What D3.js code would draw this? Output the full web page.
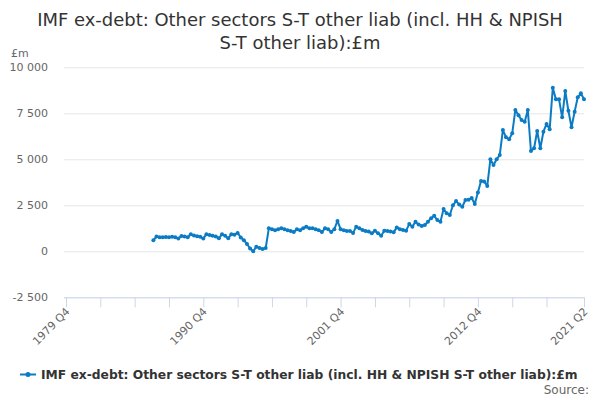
<!DOCTYPE html>
<html>
<head>
<meta charset="utf-8">
<script src="https://cdn.jsdelivr.net/npm/d3@7"></script>
<style>
  html, body { margin: 0; padding: 0; background: #fff; }
  svg { display: block; font-family: "DejaVu Sans", sans-serif; }
</style>
</head>
<body>
<svg id="chart" width="600" height="400"></svg>
<script>
// ---- data ----
const titleLines = ["IMF ex-debt: Other sectors S-T other liab (incl. HH & NPISH", "S-T other liab):£m"];
const seriesName = "IMF ex-debt: Other sectors S-T other liab (incl. HH & NPISH S-T other liab):£m";
const unitLabel = "£m";
const firstYear = 1979, firstQuarter = 4, lastYear = 2021, lastQuarter = 2;
const dataStartLabel = "1986 Q4";
const values = [
  600, 800, 770, 760, 780, 770, 790, 760, 700, 830,
  800, 770, 920, 860, 820, 790, 700, 920, 880, 850,
  800, 710, 920, 850, 710, 920, 900, 1000, 750, 600,
  400, 150, 0, 250, 180, 120, 180, 1250, 1200, 1150,
  1200, 1250, 1200, 1150, 1100, 1050, 1200, 1150, 1250, 1340,
  1250, 1250, 1200, 1150, 1050, 1250, 1200, 1050, 1200, 1650,
  1200, 1150, 1100, 1100, 1000, 1340, 1250, 1160, 1100, 1070,
  980, 1120, 980, 850, 1120, 1100, 1070, 1030, 1300, 1200,
  1160, 1120, 1480, 1340, 1610, 1450, 1375, 1430, 1610, 1800,
  1930, 1700, 1610, 2300, 2065, 1970, 2500, 2730, 2550, 2420,
  2790, 2800, 2900, 2570, 3200, 3820, 3800, 3550, 5000, 4690,
  5000, 5230, 6590, 6200, 6090, 6410, 7680, 7400, 7130, 7040,
  7680, 5450, 5600, 6540, 5600, 6500, 6920, 6630, 8890, 8260,
  8260, 7280, 8710, 7640, 6740, 7590, 8370, 8590, 8260
];
const yTicks = [-2500, 0, 2500, 5000, 7500, 10000];
const xLabelTicks = ["1979 Q4", "1990 Q4", "2001 Q4", "2012 Q4", "2021 Q2"];
const sourceText = "Source:";

// categories (quarter labels)
const categories = [];
for (let yr = firstYear, q = firstQuarter; yr < lastYear || (yr === lastYear && q <= lastQuarter); ) {
  categories.push(yr + " Q" + q);
  q++; if (q > 4) { q = 1; yr++; }
}
const startIdx = categories.indexOf(dataStartLabel);
const data = values.map((v, i) => ({ cat: categories[startIdx + i], v }));

// ---- layout ----
const svg = d3.select("#chart");
const pLeft = 64, pRight = 584, pTop = 67.3, pBottom = 297.3;
const x = d3.scalePoint().domain(categories).range([66, 584]);
const y = d3.scaleLinear().domain([-2500, 10000]).range([pBottom, pTop]);
const blue = "#0b7cc4";

// fit a text's font size to a target width
function fitWidth(sel, target, base) {
  const w = sel.node().getComputedTextLength();
  sel.attr("font-size", base * target / w);
}

// title
const tt = svg.append("text").attr("text-anchor", "middle")
  .attr("font-size", 18).attr("fill", "#333");
tt.selectAll("tspan").data(titleLines).join("tspan")
  .attr("x", 300).attr("y", (d, i) => 26 + i * 23).text(d => d);
{
  const w = tt.select("tspan").node().getComputedTextLength();
  tt.attr("font-size", 18 * 526 / w);
}

svg.append("text").attr("x", 11).attr("y", 57).attr("font-size", 11).attr("fill", "#666").text(unitLabel);

function fmt(d) {
  const s = Math.abs(d).toString();
  const t = s.length > 3 ? s.slice(0, s.length - 3) + " " + s.slice(-3) : s;
  return (d < 0 ? "-" : "") + t;
}

// grid + y axis labels
const yAxis = d3.axisLeft(y).tickValues(yTicks).tickSize(-(pRight - pLeft)).tickFormat(fmt);
const gy = svg.append("g").attr("transform", `translate(${pLeft},0)`).call(yAxis);
gy.select(".domain").remove();
gy.selectAll(".tick line").attr("stroke", "#e6e6e6");
gy.selectAll(".tick text").attr("x", -16).attr("fill", "#666").attr("font-size", 11)
  .attr("font-family", "DejaVu Sans, sans-serif");

// x axis
const tickCats = categories.filter((c, i) => i % 11 === 0 && i <= categories.length - 5).concat([categories[categories.length - 1]]);
const xAxis = d3.axisBottom(x).tickValues(tickCats).tickSize(10).tickFormat(d => xLabelTicks.includes(d) ? d : "");
const gx = svg.append("g").attr("transform", `translate(0,${pBottom})`).call(xAxis);
gx.select(".domain").attr("d", `M${pLeft},0.5H${pRight}`).attr("stroke", "#ccd6eb");
gx.selectAll(".tick line").attr("stroke", "#ccd6eb");
gx.selectAll(".tick text").attr("fill", "#666").attr("font-size", 11)
  .attr("font-family", "DejaVu Sans, sans-serif")
  .attr("text-anchor", "end").attr("dy", 0).attr("y", 0)
  .attr("transform", "translate(4,15) rotate(-45)");

// line
const line = d3.line().x(d => x(d.cat)).y(d => y(d.v));
svg.append("path").datum(data).attr("d", line).attr("fill", "none")
  .attr("stroke", blue).attr("stroke-width", 2).attr("stroke-linejoin", "round");
svg.append("g").selectAll("circle").data(data).join("circle")
  .attr("cx", d => x(d.cat)).attr("cy", d => y(d.v)).attr("r", 2).attr("fill", blue);

// legend
const lg = svg.append("g");
const lt = lg.append("text").attr("x", 41).attr("y", 379).attr("font-size", 13).attr("font-weight", "bold")
  .attr("fill", "#333").text(seriesName);
fitWidth(lt, 537, 13);
lg.append("line").attr("x1", 20).attr("x2", 36).attr("y1", 374.5).attr("y2", 374.5).attr("stroke", blue).attr("stroke-width", 2);
lg.append("circle").attr("cx", 28).attr("cy", 374.5).attr("r", 2.5).attr("fill", blue);

svg.append("text").attr("x", 589).attr("y", 394).attr("text-anchor", "end").attr("font-size", 12)
  .attr("fill", "#666").text(sourceText);
</script>
</body>
</html>
